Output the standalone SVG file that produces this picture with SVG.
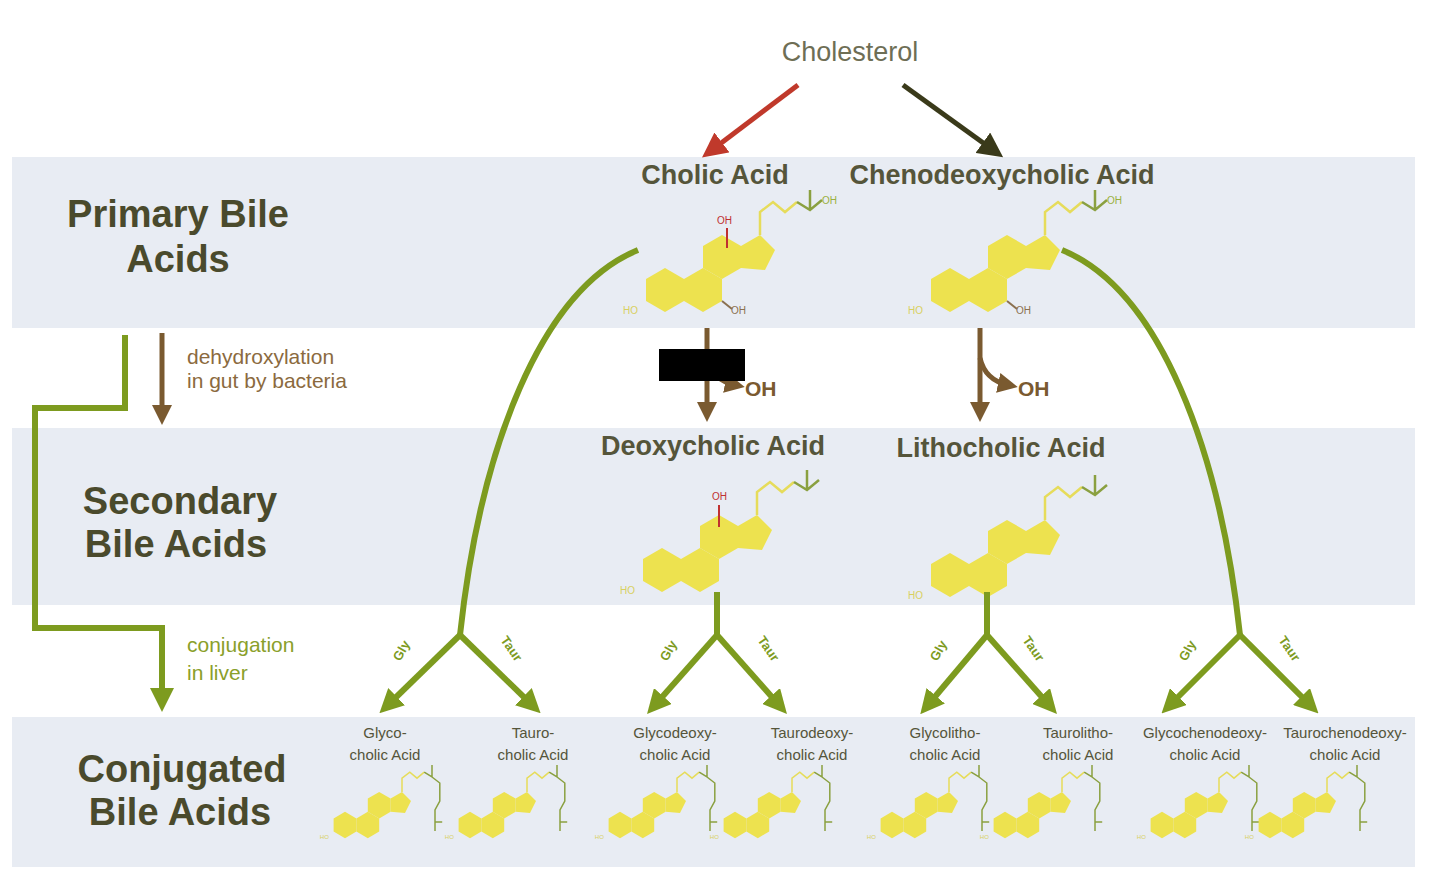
<svg xmlns="http://www.w3.org/2000/svg" width="1440" height="889" viewBox="0 0 1440 889">
<style>
.band{fill:#e8ecf3}
.h{font-family:"Liberation Sans",Arial,sans-serif;font-weight:bold;fill:#4a4a2c;text-anchor:middle}
.lab{font-family:"Liberation Sans",Arial,sans-serif;font-weight:bold;fill:#55553a;text-anchor:middle;font-size:27px}
.cj{font-family:"Liberation Sans",Arial,sans-serif;fill:#55553a;text-anchor:middle;font-size:15px}
.g{fill:none;stroke:#7d9b1f;stroke-width:6}
.b{fill:none;stroke:#7a5a30;stroke-width:5}
.note{font-family:"Liberation Sans",Arial,sans-serif;font-size:21px}
.ring{fill:#ede24f}
.sc{fill:none;stroke:#e6dc5a;stroke-width:2.5}
.cooh{fill:none;stroke:#8aa040;stroke-width:2.5}
.tiny{font-family:"Liberation Sans",Arial,sans-serif;font-size:10px}
</style>
<defs>
<marker id="ag" viewBox="0 0 10 10" refX="5" refY="5" markerWidth="4" markerHeight="4" orient="auto"><path d="M0,0L10,5L0,10z" fill="#7d9b1f"/></marker>
<marker id="ab" viewBox="0 0 10 10" refX="5" refY="5" markerWidth="4" markerHeight="4" orient="auto"><path d="M0,0L10,5L0,10z" fill="#7a5a30"/></marker>
<marker id="ar" viewBox="0 0 10 10" refX="5" refY="5" markerWidth="5" markerHeight="5" orient="auto"><path d="M0,0L10,5L0,10z" fill="#c0392b"/></marker>
<marker id="ad" viewBox="0 0 10 10" refX="5" refY="5" markerWidth="5" markerHeight="5" orient="auto"><path d="M0,0L10,5L0,10z" fill="#3a3a1a"/></marker>
<g id="core">
<polygon class="ring" points="0,-22 19,-11 19,11 0,22 -19,11 -19,-11"/>
<polygon class="ring" points="38,-22 57,-11 57,11 38,22 19,11 19,-11"/>
<polygon class="ring" points="57,-55 76,-44 76,-22 57,-11 38,-22 38,-44"/>
<polygon class="ring" points="95,-55 110,-40 100,-20 76,-22 76,-44"/>
<path class="sc" d="M95,-55 V-78 L108,-88 L120,-78 L132,-88"/>
<text x="-42" y="24" class="tiny" fill="#d8d060">HO</text>
</g>
<g id="mol">
<use href="#core"/>
<path class="cooh" d="M132,-88 L145,-80 L157,-90 M145,-80 L145,-100"/>
<text x="157" y="-86" class="tiny" fill="#9ab040">OH</text>
<path d="M57,11 l10,8" stroke="#8a7050" stroke-width="2"/>
<text x="66" y="24" class="tiny" fill="#8a7050">OH</text>
</g>
<g id="conj">
<use href="#core"/>
<path class="cooh" d="M132,-88 L145,-80 L145,-100 M145,-80 L158,-70 L158,-40 L150,-25 L150,10 M150,-5 h12"/>
</g>
</defs>
<rect class="band" x="12" y="157" width="1403" height="171"/>
<rect class="band" x="12" y="428" width="1403" height="177"/>
<rect class="band" x="12" y="717" width="1403" height="150"/>

<text class="h" x="178" y="227" font-size="38">Primary Bile</text>
<text class="h" x="178" y="272" font-size="38">Acids</text>
<text class="h" x="180" y="514" font-size="38">Secondary</text>
<text class="h" x="176" y="557" font-size="38">Bile Acids</text>
<text class="h" x="182" y="782" font-size="38">Conjugated</text>
<text class="h" x="180" y="825" font-size="38">Bile Acids</text>

<g id="cholesterol"><text x="850" y="61" font-family="Liberation Sans,Arial,sans-serif" font-size="27" fill="#6e6e55" text-anchor="middle">Cholesterol</text></g>

<g id="cholic"><text class="lab" x="715" y="184">Cholic Acid</text>
<use href="#mol" transform="translate(665,290)"/>
<text x="717" y="224" class="tiny" fill="#c03030">OH</text><path d="M727,228 V248" stroke="#c03030" stroke-width="2"/></g>
<g id="cdca"><text class="lab" x="1002" y="184">Chenodeoxycholic Acid</text>
<use href="#mol" transform="translate(950,290)"/></g>
<g id="deoxy"><text class="lab" x="713" y="455">Deoxycholic Acid</text>
<use href="#core" transform="translate(662,570)"/>
<path class="cooh" d="M794,482 L807,490 L819,480 M807,490 L807,470"/>
<text x="712" y="500" class="tiny" fill="#c03030">OH</text><path d="M719,505 V527" stroke="#c03030" stroke-width="2"/></g>
<g id="litho"><text class="lab" x="1001" y="457">Lithocholic Acid</text>
<use href="#core" transform="translate(950,575)"/>
<path class="cooh" d="M1082,487 L1095,495 L1107,485 M1095,495 L1095,475"/></g>

<g id="connectors">
<path d="M798,85 L712,150" stroke="#c0392b" stroke-width="5" marker-end="url(#ar)"/>
<path d="M903,85 L993,150" stroke="#3a3a1a" stroke-width="5" marker-end="url(#ad)"/>
<path class="b" d="M162,333 V415" marker-end="url(#ab)"/>
<path class="g" d="M125,335 V408 H35 V628 H162 V700" marker-end="url(#ag)"/>
<path class="b" d="M707,328 V412" marker-end="url(#ab)"/>
<path class="b" d="M707,358 Q712,380 735,385" stroke-width="3" marker-end="url(#ab)"/>
<path class="b" d="M980,328 V412" marker-end="url(#ab)"/>
<path class="b" d="M980,358 Q985,380 1008,385" stroke-width="3" marker-end="url(#ab)"/>
<path class="g" d="M638,250 C540,290 480,450 460,635"/>
<path class="g" d="M1062,250 C1160,290 1220,450 1240,635"/>
<path class="g" d="M717,592 V635"/>
<path class="g" d="M987,592 V635"/>
<path class="g" d="M460,635 L388,705" marker-end="url(#ag)"/>
<path class="g" d="M460,635 L532,705" marker-end="url(#ag)"/>
<path class="g" d="M717,635 L655,705" marker-end="url(#ag)"/>
<path class="g" d="M717,635 L779,705" marker-end="url(#ag)"/>
<path class="g" d="M987,635 L928,705" marker-end="url(#ag)"/>
<path class="g" d="M987,635 L1049,705" marker-end="url(#ag)"/>
<path class="g" d="M1240,635 L1170,705" marker-end="url(#ag)"/>
<path class="g" d="M1240,635 L1310,705" marker-end="url(#ag)"/>
</g>
<rect x="659" y="349" width="86" height="32" fill="#000"/>
<text x="745" y="396" font-family="Liberation Sans,Arial,sans-serif" font-size="21" font-weight="bold" fill="#7a5a30">OH</text>
<text x="1018" y="396" font-family="Liberation Sans,Arial,sans-serif" font-size="21" font-weight="bold" fill="#7a5a30">OH</text>
<text class="note" fill="#8b6a3e" x="187" y="364">dehydroxylation</text>
<text class="note" fill="#8b6a3e" x="187" y="388">in gut by bacteria</text>
<text class="note" fill="#8aa02a" x="187" y="652">conjugation</text>
<text class="note" fill="#8aa02a" x="187" y="680">in liver</text>

<g font-family="Liberation Sans,Arial,sans-serif" font-size="13" font-weight="bold" fill="#7d9b1f">
<text transform="translate(400,662) rotate(-60)">Gly</text><text transform="translate(500,640) rotate(55)">Taur</text>
<text transform="translate(667,662) rotate(-60)">Gly</text><text transform="translate(757,640) rotate(55)">Taur</text>
<text transform="translate(937,662) rotate(-60)">Gly</text><text transform="translate(1022,640) rotate(55)">Taur</text>
<text transform="translate(1186,662) rotate(-60)">Gly</text><text transform="translate(1278,640) rotate(55)">Taur</text>
</g>

<g id="conjugated">
<text class="cj" x="385" y="738">Glyco-</text><text class="cj" x="385" y="760">cholic Acid</text>
<text class="cj" x="533" y="738">Tauro-</text><text class="cj" x="533" y="760">cholic Acid</text>
<text class="cj" x="675" y="738">Glycodeoxy-</text><text class="cj" x="675" y="760">cholic Acid</text>
<text class="cj" x="812" y="738">Taurodeoxy-</text><text class="cj" x="812" y="760">cholic Acid</text>
<text class="cj" x="945" y="738">Glycolitho-</text><text class="cj" x="945" y="760">cholic Acid</text>
<text class="cj" x="1078" y="738">Taurolitho-</text><text class="cj" x="1078" y="760">cholic Acid</text>
<text class="cj" x="1205" y="738" font-size="13">Glycochenodeoxy-</text><text class="cj" x="1205" y="760">cholic Acid</text>
<text class="cj" x="1345" y="738" font-size="13">Taurochenodeoxy-</text><text class="cj" x="1345" y="760">cholic Acid</text>
<use href="#conj" transform="translate(345,825) scale(0.6)"/>
<use href="#conj" transform="translate(470,825) scale(0.6)"/>
<use href="#conj" transform="translate(620,825) scale(0.6)"/>
<use href="#conj" transform="translate(735,825) scale(0.6)"/>
<use href="#conj" transform="translate(892,825) scale(0.6)"/>
<use href="#conj" transform="translate(1005,825) scale(0.6)"/>
<use href="#conj" transform="translate(1162,825) scale(0.6)"/>
<use href="#conj" transform="translate(1270,825) scale(0.6)"/>
</g>
</svg>
